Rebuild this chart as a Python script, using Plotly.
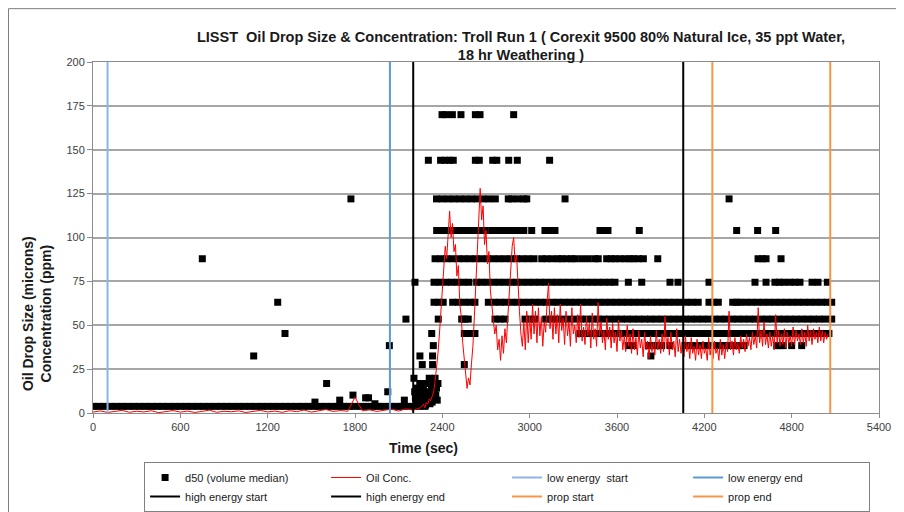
import plotly.graph_objects as go

# ---- d50 (volume median) readings, grouped by LISST size bin (microns) ----
t_3_78 = [0, 40, 80, 120, 160, 200, 240, 280, 320, 360, 400, 440, 480, 520, 560, 600,
          640, 680, 720, 760, 800, 840, 880, 920, 960, 1000, 1040, 1080, 1120, 1160,
          1200, 1240, 1280, 1320, 1360, 1400, 1440, 1480, 1520, 1560, 1600, 1640, 1680,
          1720, 1760, 1800, 1840, 1880, 1920, 1960, 2000, 2040, 2080, 2120, 2160, 2200,
          2240, 2280]
t_170 = [2398, 2425, 2469, 2528, 2627, 2659, 2890]
t_144 = [2304, 2388, 2418, 2448, 2475, 2627, 2654, 2746, 2774, 2856, 2915, 3137]
t_122 = [1772, 2360, 2400, 2440, 2480, 2520, 2560, 2600, 2640, 2680, 2720, 2764, 2853,
         2878, 2920, 2960, 2980, 3243, 4370]
t_104 = [2361, 2400, 2440, 2480, 2521, 2533, 2573, 2613, 2653, 2693, 2739, 2762, 2800,
         2840, 2880, 2920, 2960, 3014, 3105, 3140, 3174, 3483, 3510, 3538, 3753, 4422,
         4566, 4690]
t_87_9 = [751, 2350, 2390, 2430, 2470, 2510, 2550, 2590, 2630, 2670, 2710, 2750, 2790,
          2830, 2870, 2910, 2950, 2990, 3030, 3083, 3117, 3157, 3197, 3220, 3255, 3289,
          3311, 3357, 3403, 3449, 3471, 3529, 3560, 3586, 3620, 3655, 3689, 3712, 3747,
          3781, 3880, 4569, 4600, 4624, 4727]
t_74_5 = [2212, 2343, 2383, 2423, 2463, 2503, 2543, 2583, 2636, 2670, 2710, 2750, 2790,
          2830, 2870, 2910, 2950, 2990, 3030, 3070, 3110, 3150, 3190, 3230, 3270, 3310,
          3350, 3390, 3430, 3470, 3510, 3550, 3586, 3678, 3770, 3964, 4019, 4232, 4548,
          4624, 4685, 4715, 4747, 4788, 4822, 4857, 4940, 4981, 5045]
t_63_1 = [1269, 2343, 2375, 2406, 2471, 2511, 2551, 2591, 2624, 2716, 2756, 2796, 2836,
          2876, 2916, 2956, 2996, 3036, 3076, 3116, 3156, 3196, 3236, 3276, 3316, 3356,
          3396, 3436, 3476, 3516, 3556, 3596, 3636, 3676, 3716, 3756, 3796, 3836, 3876,
          3916, 3956, 3996, 4036, 4076, 4116, 4158, 4232, 4264, 4296, 4395, 4422, 4445,
          4485, 4525, 4565, 4605, 4645, 4685, 4725, 4765, 4805, 4845, 4885, 4925, 4965,
          5005, 5045, 5075]
t_53_5 = [2150, 2372, 2533, 2556, 2578, 2762, 2796, 2830, 2968, 3002, 3037, 3110, 3150,
          3190, 3230, 3270, 3310, 3350, 3390, 3430, 3470, 3510, 3550, 3590, 3630, 3670,
          3710, 3750, 3790, 3830, 3870, 3910, 3950, 3990, 4030, 4070, 4110, 4150, 4190,
          4230, 4270, 4310, 4350, 4390, 4430, 4470, 4510, 4550, 4590, 4630, 4670, 4710,
          4750, 4790, 4830, 4870, 4910, 4950, 4990, 5030, 5075]
t_45_3 = [1319, 2327, 2551, 2590, 2624, 3346, 3380, 3414, 3460, 3495, 3530, 3570, 3609,
          3639, 3679, 3719, 3759, 3799, 3839, 3879, 3919, 3959, 3999, 4039, 4079, 4119,
          4159, 4199, 4239, 4279, 4319, 4359, 4399, 4439, 4479, 4519, 4559, 4599, 4639,
          4679, 4719, 4759, 4799, 4839, 4879, 4919, 4959, 4999, 5030, 5056]
t_38_4 = [2036, 2338, 3677, 3712, 3815, 3850, 3880, 3907, 3964, 4067, 4107, 4147, 4187,
          4227, 4267, 4300, 4330, 4354, 4394, 4434, 4473, 4697, 4720, 4742, 4800, 4869]
t_32_5 = [1104, 2246, 2333, 3833]
t_27_6 = [2262, 2333, 2551]

# scattered low readings before / at the start of high energy
low_t = [1525, 1605, 1695, 1786, 1873, 1893, 1937, 2025, 2139, 2205,
         2210, 2215, 2220, 2225, 2230, 2235, 2240, 2245, 2250, 2255, 2260, 2265, 2270,
         2275, 2280, 2285, 2290, 2295, 2300, 2305, 2310, 2315, 2320, 2325, 2330, 2335,
         2340, 2345, 2350, 2355, 2360, 2365, 2370]
low_d50 = [6.21, 16.8, 7.33, 10.2, 8.65, 8.65, 5.27, 12.1, 7.33, 19.8,
           12.1, 8.65, 5.27, 14.2, 6.21, 10.2, 4.46, 16.8, 7.33, 12.1, 5.27, 8.65, 14.2,
           6.21, 10.2, 4.46, 16.8, 7.33, 12.1, 8.65, 19.8, 5.27, 10.2, 14.2, 6.21, 16.8,
           8.65, 12.1, 19.8, 10.2, 14.2, 7.33, 16.8]

d50_bins = [(3.78, t_3_78), (170, t_170), (144, t_144), (122, t_122), (104, t_104),
            (87.9, t_87_9), (74.5, t_74_5), (63.1, t_63_1), (53.5, t_53_5),
            (45.3, t_45_3), (38.4, t_38_4), (32.5, t_32_5), (27.6, t_27_6)]

# ---- oil concentration (ppm) ----
# every 50 s before high energy
conc_quiet = [0.5, 1.2, 0.3, 0.8, 1.5, 0.4, 1.0, 0.6, 1.3, 0.2, 0.9, 1.4, 0.5, 1.1, 0.3,
              0.8, 1.6, 0.4, 1.0, 0.7, 1.2, 0.3, 0.9, 1.5, 0.6, 1.1, 0.4, 1.3, 0.8, 1.7,
              0.5, 1.2, 2.0, 0.9, 1.4, 1.0, 9.0, 1.2, 1.8, 0.9, 1.5, 2.2, 1.1, 2.4, 1.6]
# every 10 s from 2250 s
conc_active = [
    3, 4, 5, 3, 6, 5, 8, 7, 10, 12, 18, 25, 34, 45, 58, 70, 82, 95, 88, 105,
    115, 100, 108, 92, 96, 78, 84, 62, 55, 40, 30, 22, 14, 20, 16, 28, 38, 55, 72, 90,
    105, 128, 110, 118, 96, 104, 85, 92, 70, 62, 55, 45, 50, 36, 42, 30, 44, 34, 48, 40,
    55, 68, 82, 95, 100, 86, 90, 70, 58, 45, 38, 52, 36, 58, 40, 55, 42, 62, 45, 58,
    40, 60, 44, 55, 38, 52, 46, 64, 74, 48, 58, 42, 60, 45, 56, 40, 62, 47, 54, 39,
    58, 44, 52, 38, 60, 45, 50, 40, 56, 43, 62, 41, 49, 39, 55, 44, 51, 37, 57, 42,
    48, 38, 63, 44, 52, 40, 47, 36, 54, 42, 49, 37, 51, 40, 46, 35, 53, 41, 47, 36,
    44, 35, 50, 38, 45, 34, 48, 36, 43, 33, 47, 37, 42, 32, 46, 36, 41, 31, 44, 35,
    40, 33, 47, 36, 42, 34, 45, 35, 55, 37, 43, 33, 46, 36, 41, 32, 48, 35, 42, 34,
    39, 32, 44, 35, 40, 31, 43, 34, 38, 30, 42, 33, 39, 31, 41, 34, 37, 30, 43, 33,
    38, 31, 41, 34, 37, 30, 42, 33, 39, 31, 40, 35, 58, 36, 41, 33, 43, 36, 40, 34,
    44, 37, 42, 35, 45, 38, 43, 36, 46, 39, 44, 37, 60, 40, 47, 38, 52, 39, 45, 37,
    46, 38, 44, 36, 56, 40, 47, 38, 45, 39, 48, 37, 46, 40, 44, 38, 49, 39, 47, 41,
    45, 39, 48, 40, 46, 38, 50, 41, 47, 39, 48, 42, 46, 40, 49, 41, 47, 40, 46, 42, 45]
conc_t = [50 * i for i in range(len(conc_quiet))] + \
         [2250 + 10 * i for i in range(len(conc_active))]
conc = conc_quiet + conc_active

# ---- test phase markers ----
event_names = ['low energy  start', 'low energy end', 'high energy start',
               'high energy end', 'prop start', 'prop end']
event_times = [100, 2040, 2200, 4055, 4255, 5065]
event_colors = ['#8EB4E3', '#5B9BD5', '#000000', '#000000', '#F79646', '#F79646']

d50_x, d50_y = [], []
for size, times in d50_bins:
    d50_x += times
    d50_y += [size] * len(times)
d50_x += low_t
d50_y += low_d50

fig = go.Figure()
fig.add_trace(go.Scatter(x=d50_x, y=d50_y, mode='markers', name='d50 (volume median)',
                         marker=dict(symbol='square', size=7, color='black')))
fig.add_trace(go.Scatter(x=conc_t, y=conc, mode='lines', name='Oil Conc.',
                         line=dict(color='#FF0000', width=1)))
for name, t, c in zip(event_names, event_times, event_colors):
    fig.add_trace(go.Scatter(x=[t, t], y=[0, 200], mode='lines', name=name,
                             line=dict(color=c, width=2)))

font = 'Liberation Sans, Arial, sans-serif'
dark = '#1a1a1a'
fig.update_layout(
    width=896, height=504,
    margin=dict(l=85, r=25, t=54, b=99, autoexpand=False),
    paper_bgcolor='white', plot_bgcolor='white',
    font=dict(family=font, size=11, color='#404040'),
    title=dict(text='<b>LISST  Oil Drop Size & Concentration: Troll Run 1 ( Corexit 9500 80% '
                    'Natural Ice, 35 ppt Water,<br>18 hr Weathering )</b>',
               x=0.5445, xref='paper', xanchor='center', y=0.9335, yanchor='middle',
               font=dict(size=14.5, color=dark)),
    showlegend=True,
    legend=dict(orientation='h', x=0.065, xanchor='left', y=-0.1396, yanchor='top',
                entrywidth=136, entrywidthmode='pixels',
                bordercolor='#808080', borderwidth=1,
                font=dict(size=11, color=dark)),
    xaxis=dict(range=[0, 5400], dtick=600, tick0=0, showgrid=False, zeroline=False,
               showline=True, linecolor='#8c8c8c', mirror=True,
               ticks='outside', ticklen=4, tickcolor='#8c8c8c'),
    yaxis=dict(range=[0, 200], dtick=25, tick0=0, showgrid=True, gridcolor='#a6a6a6',
               gridwidth=1.5, zeroline=False, showline=True, linecolor='#8c8c8c',
               mirror=True, ticks='outside', ticklen=5, tickcolor='#8c8c8c'),
    annotations=[
        dict(text='<b>Time (sec)</b>', xref='paper', yref='paper', x=0.421, y=-0.0997,
             xanchor='center', yanchor='middle', showarrow=False,
             font=dict(size=14, color=dark)),
        dict(text='<b>Oil Drop Size (microns)<br>Concentration (ppm)</b>', xref='paper',
             yref='paper', x=-0.0712, y=0.282, textangle=-90, xanchor='center',
             yanchor='middle', showarrow=False, font=dict(size=14, color=dark)),
    ],
    shapes=[dict(type='rect', xref='paper', yref='paper', x0=-0.1075, x1=1.0254,
                 y0=-0.3, y1=1.152, line=dict(color='#7f7f7f', width=1))],
)

fig.write_html('out.html')
